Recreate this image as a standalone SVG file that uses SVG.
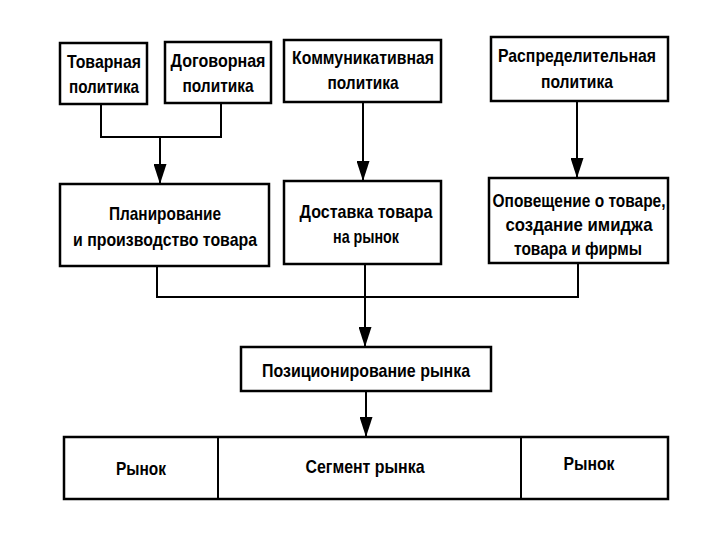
<svg xmlns="http://www.w3.org/2000/svg" width="720" height="540" viewBox="0 0 720 540">
<defs>
<style>
.box{fill:#fff;stroke:#000;stroke-width:2.5}
.ln{fill:none;stroke:#000;stroke-width:2}
.t{font-family:"Liberation Sans",Arial,sans-serif;font-size:19px;font-weight:bold;fill:#000;text-anchor:middle}
</style>
<marker id="arr" viewBox="0 0 20 13" refX="20" refY="6.5" markerWidth="20" markerHeight="13" markerUnits="userSpaceOnUse" orient="auto">
<path d="M0,0 L20,6.5 L0,13 Z" fill="#000"/>
</marker>
</defs>
<rect width="720" height="540" fill="#fff"/>
<g id="connectors">
<path class="ln" d="M101,104 V137 H221 V103"/>
<path class="ln" d="M160,137 V184" marker-end="url(#arr)"/>
<path class="ln" d="M363,102 V181" marker-end="url(#arr)"/>
<path class="ln" d="M577,101 V178" marker-end="url(#arr)"/>
<path class="ln" d="M157,266 V297 H578 V263"/>
<path class="ln" d="M365,264 V347" marker-end="url(#arr)"/>
<path class="ln" d="M366,391 V437" marker-end="url(#arr)"/>
</g>
<g id="n-tovarnaya">
<rect class="box" x="60" y="43" width="87" height="61"/>
<text class="t" x="104" y="68" textLength="74" lengthAdjust="spacingAndGlyphs">Товарная</text>
<text class="t" x="104" y="93" textLength="70" lengthAdjust="spacingAndGlyphs">политика</text>
</g>
<g id="n-dogovornaya">
<rect class="box" x="165" y="42" width="106" height="61"/>
<text class="t" x="218" y="67" textLength="95" lengthAdjust="spacingAndGlyphs">Договорная</text>
<text class="t" x="218" y="92" textLength="71" lengthAdjust="spacingAndGlyphs">политика</text>
</g>
<g id="n-kommunikativnaya">
<rect class="box" x="284" y="40" width="157" height="62"/>
<text class="t" x="363" y="64" textLength="142" lengthAdjust="spacingAndGlyphs">Коммуникативная</text>
<text class="t" x="363" y="89" textLength="71" lengthAdjust="spacingAndGlyphs">политика</text>
</g>
<g id="n-raspredelitelnaya">
<rect class="box" x="491" y="37" width="177" height="64"/>
<text class="t" x="577" y="62" textLength="158" lengthAdjust="spacingAndGlyphs">Распределительная</text>
<text class="t" x="577" y="88" textLength="72" lengthAdjust="spacingAndGlyphs">политика</text>
</g>
<g id="n-planirovanie">
<rect class="box" x="60" y="184" width="209" height="82"/>
<text class="t" x="165" y="220" textLength="112" lengthAdjust="spacingAndGlyphs">Планирование</text>
<text class="t" x="165" y="246" textLength="184" lengthAdjust="spacingAndGlyphs">и производство товара</text>
</g>
<g id="n-dostavka">
<rect class="box" x="284" y="181" width="157" height="83"/>
<text class="t" x="366" y="218" textLength="133" lengthAdjust="spacingAndGlyphs">Доставка товара</text>
<text class="t" x="366" y="243" textLength="66" lengthAdjust="spacingAndGlyphs">на рынок</text>
</g>
<g id="n-opoveschenie">
<rect class="box" x="489" y="178" width="179" height="85"/>
<text class="t" x="579" y="207" textLength="173" lengthAdjust="spacingAndGlyphs">Оповещение о товаре,</text>
<text class="t" x="579" y="231" textLength="147" lengthAdjust="spacingAndGlyphs">создание имиджа</text>
<text class="t" x="578" y="255" textLength="128" lengthAdjust="spacingAndGlyphs">товара и фирмы</text>
</g>
<g id="n-pozicionirovanie">
<rect class="box" x="241" y="347" width="250" height="44"/>
<text class="t" x="366" y="377" textLength="208" lengthAdjust="spacingAndGlyphs">Позиционирование рынка</text>
</g>
<g id="n-market-bar">
<rect class="box" x="64" y="437" width="604" height="62"/>
<line class="ln" x1="218" y1="437" x2="218" y2="499"/>
<line class="ln" x1="521" y1="437" x2="521" y2="499"/>
<text class="t" x="141" y="475" textLength="50" lengthAdjust="spacingAndGlyphs">Рынок</text>
<text class="t" x="365" y="473" textLength="119" lengthAdjust="spacingAndGlyphs">Сегмент рынка</text>
<text class="t" x="589" y="470" textLength="51" lengthAdjust="spacingAndGlyphs">Рынок</text>
</g>
</svg>
